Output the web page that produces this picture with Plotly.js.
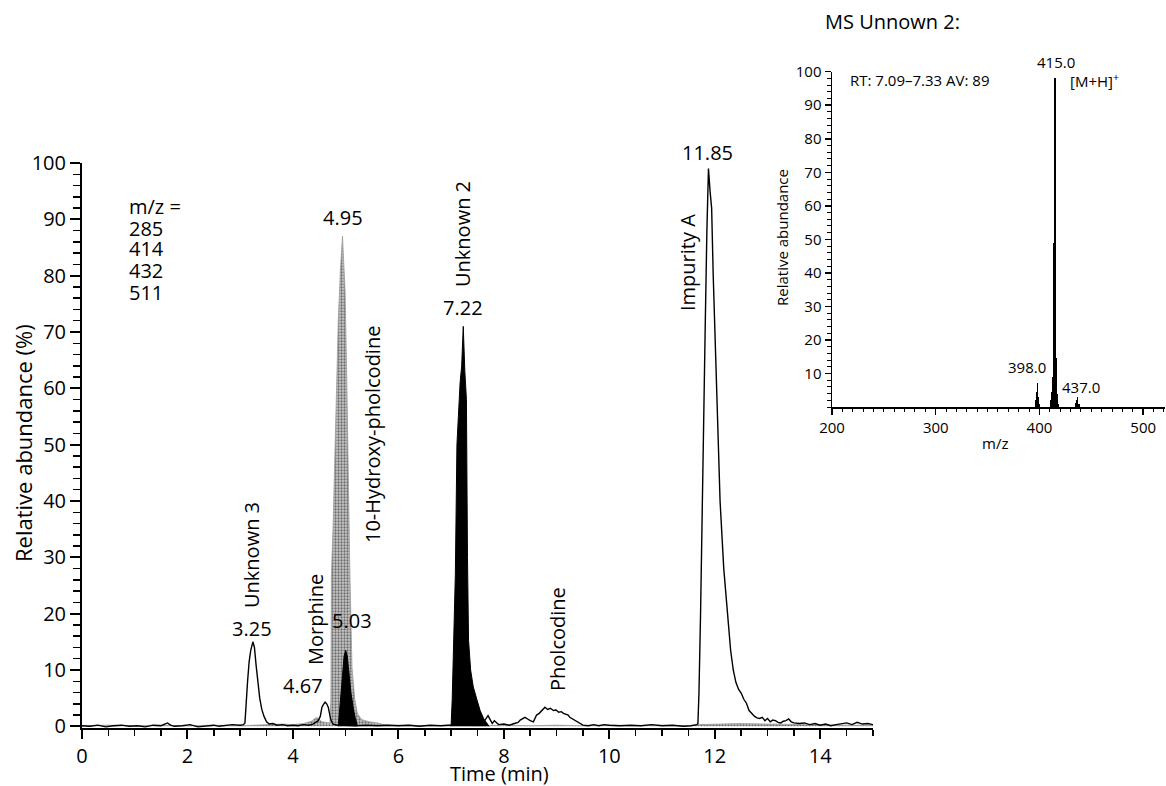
<!DOCTYPE html>
<html>
<head>
<meta charset="utf-8">
<script src="https://cdn.plot.ly/plotly-3.0.1.min.js"></script>
<style>
html,body{margin:0;padding:0;background:#fff;}
#chart{width:1166px;height:786px;}
</style>
</head>
<body>
<div id="chart"></div>
<script>
// ---------------- DATA ----------------
// Chromatogram, black outline trace (time in min, relative abundance %)
const lineTime = [0.0,0.15,0.3,0.45,0.6,0.75,0.9,1.05,1.2,1.35,1.5,1.62,1.68,1.75,1.9,2.05,2.2,2.35,2.5,2.6,2.7,2.85,3.0,3.06,
  3.09,3.11,3.14,3.17,3.2,3.24,3.27,3.3,3.33,3.37,3.41,3.45,3.5,3.55,3.62,3.7,3.8,3.9,4.0,4.1,4.2,4.3,4.38,
  4.44,4.48,4.52,4.55,4.58,4.61,4.64,4.67,4.7,4.72,4.76,4.85,5.0,5.2,5.4,5.6,5.8,6.0,6.2,6.4,6.6,6.8,6.95,
  7.1,7.3,7.5,7.62,7.67,7.7,7.74,7.78,7.82,7.86,7.9,8.0,8.1,8.2,8.27,8.31,8.36,8.4,8.45,8.5,8.56,8.62,8.67,8.72,8.78,8.83,8.88,8.94,8.99,9.04,9.09,9.13,9.18,9.22,9.25,9.3,9.36,9.44,9.5,9.6,9.7,9.8,9.9,10.0,10.2,10.4,10.6,10.8,11.0,11.2,11.4,11.55,11.64,
  11.66,11.68,11.7,11.73,11.76,11.79,11.82,11.85,11.88,11.91,11.94,11.97,12.0,12.04,12.1,12.17,12.25,12.3,12.35,12.4,12.45,12.5,12.55,12.6,12.65,12.7,12.75,12.8,12.85,12.9,12.95,13.0,13.05,13.1,13.15,13.2,13.25,13.3,13.35,13.4,13.45,13.5,13.6,13.7,13.8,13.9,14.0,14.1,14.2,14.3,14.4,14.5,14.6,14.7,14.8,14.9,15.0];
const lineAbund = [0.1,0.0,0.2,-0.1,0.1,0.2,0.0,0.1,-0.1,0.2,0.1,0.6,0.2,0.0,0.1,0.3,-0.1,0.1,0.2,0.0,0.1,0.3,0.2,0.3,
  0.6,4.0,8.0,11.5,13.5,15.0,14.0,11.0,8.0,5.0,3.0,1.8,0.8,0.4,0.5,0.2,0.3,0.1,0.2,0.1,0.3,0.2,0.4,
  0.8,1.0,1.8,3.4,3.9,4.3,4.0,3.4,2.0,1.1,0.4,0.2,0.2,0.1,0.2,0.1,0.2,0.1,0.2,0.0,0.2,0.1,0.2,
  0.2,0.2,0.2,0.8,1.4,1.9,1.2,0.5,1.0,0.6,0.3,0.4,0.2,0.5,0.7,1.1,1.3,1.6,1.3,1.0,0.8,2.0,2.3,2.8,3.4,3.0,3.2,2.8,2.9,2.5,2.6,2.3,2.1,2.0,1.6,1.3,0.9,0.5,0.2,0.1,0.3,0.1,0.3,0.2,0.1,0.2,0.1,0.3,0.1,0.2,0.0,0.1,0.2,0.3,
  0.5,6.0,20.0,40.0,58.0,72.0,88.0,99.0,95.0,92.0,80.0,71.0,58.0,40.0,28.0,19.5,13.5,10.0,7.8,6.6,5.9,4.8,4.1,2.8,2.3,1.8,1.5,1.4,1.6,1.0,1.4,0.8,1.1,1.0,0.7,0.6,0.9,1.0,1.3,0.8,0.6,0.5,0.6,0.3,0.5,0.2,0.4,0.1,0.3,0.4,0.6,0.3,0.7,0.4,0.5,0.3,0.4];

// Grey filled trace (10-hydroxy-pholcodine)
const greyTime = [0,0.5,1.0,1.5,2.0,2.5,3.0,3.5,3.8,4.0,4.2,4.35,4.45,4.55,4.65,4.7,4.72,4.73,4.76,4.8,4.83,4.86,4.9,4.94,4.97,4.99,5.02,5.05,5.08,5.12,5.17,5.22,5.3,5.45,5.6,5.72,5.85,6.2,6.6,7.0,7.5,8.0,8.5,9.0,9.5,10.0,10.5,11.0,11.5,11.7,12.0,12.5,13.0,13.5,14.0,14.5,15.0];
const greyAbund = [0.1,0.2,0.1,0.2,0.1,0.2,0.1,0.3,0.4,0.3,0.5,0.9,1.6,0.8,0.7,0.6,5,27,35,50,61.5,72,81,87,81,77,62,40,27,10.5,5,2.3,1.2,0.8,0.6,0.3,0.2,0.2,0.1,0.2,0.1,0.2,0.1,0.2,0.1,0.2,0.1,0.2,0.1,0.3,0.4,0.5,0.4,0.3,0.3,0.2,0.2];

// Black filled peaks (5.03 and 7.22)
const peak503Time = [4.86,4.9,4.94,4.97,5.0,5.03,5.06,5.1,5.14,5.18,5.22];
const peak503Abund = [0,4,9,12.5,13.5,12.5,9.5,6,3.5,1.5,0.3];
const peak722Time = [6.99,7.0,7.02,7.05,7.08,7.11,7.14,7.17,7.2,7.23,7.26,7.29,7.31,7.33,7.37,7.42,7.49,7.55,7.62,7.68,7.72];
const peak722Abund = [0,0.3,4.7,15.3,27,50,56,61,64,71,63,58,30,15.3,10,7,4.7,2.8,1.3,0.4,0];

// Inset mass spectrum (m/z, relative abundance)
const msMz = [396,397,398,399,400,411,412,413,414,415,416,417,418,435,436,437,438];
const msAbund = [2.0,4.5,7.3,3.0,0.8,2.0,4.5,9,49,98,14.5,4,1,1.2,2.0,3.0,1.0];

// Text
const mzList = ['m/z =','285','414','432','511'];
const rtLabels = ['3.25','4.67','4.95','5.03','7.22','11.85'];
const compounds = ['Unknown 3','Morphine','10-Hydroxy-pholcodine','Unknown 2','Pholcodine','Impurity A'];
const msLabels = ['415.0','[M+H]<sup>+</sup>','398.0','437.0'];

// ---------------- LAYOUT HELPERS ----------------
const W = 1166, H = 786;
const px = x => x / W;
const py = y => 1 - y / H;
const FONT = '"Open Sans", "Noto Sans", sans-serif';

function ann(text, x, y, size, opt) {
  return Object.assign({
    text: text, x: px(x), y: py(y), xref: 'paper', yref: 'paper',
    showarrow: false, xanchor: 'center', yanchor: 'middle',
    font: {family: FONT, size: size, color: '#000'}
  }, opt || {});
}

const traces = [
  {x: greyTime, y: greyAbund, type: 'scatter', mode: 'lines', xaxis: 'x', yaxis: 'y',
   line: {color: '#9a9a9a', width: 0.8}, fill: 'tozeroy', fillcolor: '#b4b4b4',
   fillpattern: {shape: '.', size: 3, solidity: 0.45, fgcolor: '#6e6e6e', bgcolor: '#c9c9c9'},
   hoverinfo: 'skip'},
  {x: lineTime, y: lineAbund, type: 'scatter', mode: 'lines', xaxis: 'x', yaxis: 'y',
   line: {color: '#000', width: 1.4}, hoverinfo: 'skip'},
  {x: peak503Time, y: peak503Abund, type: 'scatter', mode: 'lines', xaxis: 'x', yaxis: 'y',
   line: {color: '#000', width: 1}, fill: 'tozeroy', fillcolor: '#000', hoverinfo: 'skip'},
  {x: peak722Time, y: peak722Abund, type: 'scatter', mode: 'lines', xaxis: 'x', yaxis: 'y',
   line: {color: '#000', width: 1}, fill: 'tozeroy', fillcolor: '#000', hoverinfo: 'skip'},
  {x: msMz, y: msAbund, type: 'bar', xaxis: 'x2', yaxis: 'y2', width: 1.2,
   marker: {color: '#000', line: {width: 0}}, hoverinfo: 'skip'}
];

const annotations = [];
// m/z list
mzList.forEach((t, i) => annotations.push(ann(t, 127, [207, 228, 249, 270, 292][i], 20, {xanchor: 'left'})));
// retention time labels
const rtPos = [[252, 628], [303, 685], [343, 217], [352, 620], [463, 307], [707, 153]];
rtLabels.forEach((t, i) => annotations.push(ann(t, rtPos[i][0], rtPos[i][1], 20)));
// compound names (rotated)
const cPos = [[251, 555], [315, 620], [372, 435], [463, 234], [557, 639], [687, 263]];
compounds.forEach((t, i) => annotations.push(ann(t, cPos[i][0], cPos[i][1], 20, {textangle: -90})));
// axis titles main
annotations.push(ann('Time (min)', 499, 773, 20));
annotations.push(ann('Relative abundance (%)', 23, 443, 22, {textangle: -90}));
// inset
annotations.push(ann('MS Unnown 2:', 892, 22, 20));
annotations.push(ann('RT: 7.09–7.33 AV: 89', 848, 80, 15, {xanchor: 'left'}));
annotations.push(ann(msLabels[0], 1056, 62, 15));
annotations.push(ann(msLabels[1], 1068, 80, 15, {xanchor: 'left'}));
annotations.push(ann(msLabels[2], 1027, 367, 15));
annotations.push(ann(msLabels[3], 1081, 387, 15));
annotations.push(ann('m/z', 995, 443, 15));
annotations.push(ann('Relative abundance', 782, 238, 15, {textangle: -90}));

const layout = {
  width: W, height: H,
  margin: {l: 0, r: 0, t: 0, b: 0},
  paper_bgcolor: '#fff', plot_bgcolor: 'rgba(0,0,0,0)',
  showlegend: false,
  font: {family: FONT, size: 19, color: '#000'},
  xaxis: {
    domain: [px(82), px(873)], range: [0, 15], anchor: 'y',
    showgrid: false, zeroline: false, showline: true, linecolor: '#000', linewidth: 2,
    ticks: 'outside', tick0: 0, dtick: 2, ticklen: 9, tickwidth: 2, tickcolor: '#000',
    minor: {dtick: 0.5, ticks: 'outside', ticklen: 6, tickwidth: 1.5, tickcolor: '#000'},
    tickfont: {family: FONT, size: 20, color: '#000'}
  },
  yaxis: {
    domain: [py(728), py(163)], range: [-0.3, 100], anchor: 'x',
    showgrid: false, zeroline: false, showline: true, linecolor: '#000', linewidth: 2,
    ticks: 'outside', tick0: 0, dtick: 10, ticklen: 10, tickwidth: 2, tickcolor: '#000',
    minor: {dtick: 2, ticks: 'outside', ticklen: 7, tickwidth: 1.5, tickcolor: '#000'},
    tickfont: {family: FONT, size: 20, color: '#000'}
  },
  xaxis2: {
    domain: [px(832), px(1165)], range: [200, 521], anchor: 'y2',
    showgrid: false, zeroline: false, showline: true, linecolor: '#000', linewidth: 1.5,
    ticks: 'outside', tick0: 200, dtick: 100, ticklen: 6, tickwidth: 1.5, tickcolor: '#000',
    minor: {dtick: 10, ticks: 'outside', ticklen: 3, tickwidth: 1, tickcolor: '#000'},
    tickfont: {family: FONT, size: 15, color: '#000'}
  },
  yaxis2: {
    domain: [py(407), py(71.7)], range: [0, 100], anchor: 'x2',
    showgrid: false, zeroline: false, showline: true, linecolor: '#000', linewidth: 1.5,
    ticks: 'outside', tickvals: [10,20,30,40,50,60,70,80,90,100], ticklen: 6, tickwidth: 1.5, tickcolor: '#000',
    minor: {dtick: 2, ticks: 'outside', ticklen: 4, tickwidth: 1, tickcolor: '#000'},
    tickfont: {family: FONT, size: 15, color: '#000'}
  },
  bargap: 0,
  annotations: annotations
};

Plotly.newPlot('chart', traces, layout, {staticPlot: true, displayModeBar: false});
</script>
</body>
</html>
